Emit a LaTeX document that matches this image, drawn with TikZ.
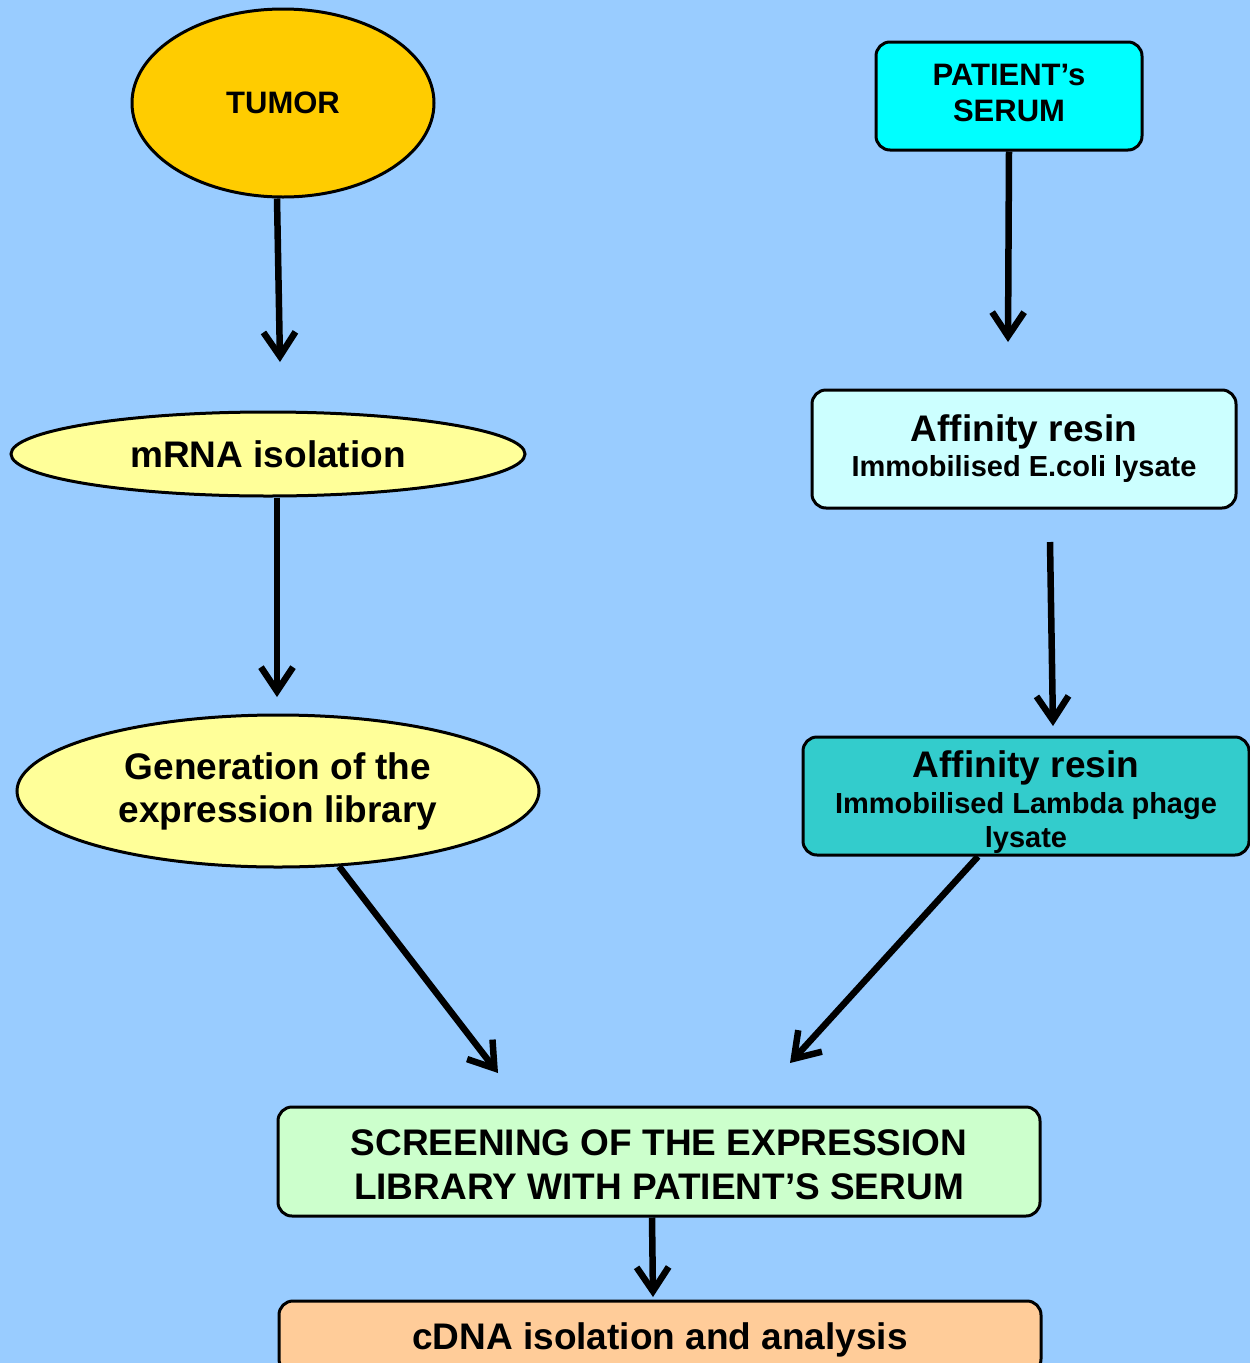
\documentclass[tikz,border=0pt]{standalone}
\usepackage{fontspec}
\setmainfont{Liberation Sans}
\usetikzlibrary{arrows.meta,calc,shapes.geometric}
\definecolor{bgblue}{HTML}{99CCFF}
\definecolor{tumorc}{HTML}{FFCC00}
\definecolor{paleyel}{HTML}{FFFF99}
\definecolor{cyanc}{HTML}{00FFFF}
\definecolor{palecyan}{HTML}{CCFFFF}
\definecolor{tealc}{HTML}{33CCCC}
\definecolor{palegreen}{HTML}{CCFFCC}
\definecolor{peach}{HTML}{FFCC99}
\tikzset{
  shapebase/.style={draw=black, line width=3pt, inner sep=0pt, align=center, font=\bfseries},
  ell/.style={shapebase, ellipse},
  rbox/.style={shapebase, rectangle, rounded corners=14pt},
  arr/.style={line width=6.5pt, -{Straight Barb[length=24pt,width=32pt]}},
}
\begin{document}
\begin{tikzpicture}[x=1pt,y=-1pt]
\fill[bgblue] (0,0) rectangle (1250,1363);
\useasboundingbox (0,0) rectangle (1250,1363);

% left column
\node[ell, fill=tumorc, minimum width=302pt, minimum height=188pt,
      font=\bfseries\fontsize{31}{36}\selectfont] (tumor) at (283,103) {TUMOR};
\node[ell, fill=paleyel, minimum width=514pt, minimum height=84pt,
      font=\bfseries\fontsize{37}{43}\selectfont] (mrna) at (268,454) {mRNA isolation};
\node[ell, fill=paleyel, minimum width=522pt, minimum height=152pt,
      font=\bfseries\fontsize{37}{43}\selectfont] (gen) at (278,791) {Generation of the\\expression library};

% right column
\node[rbox, fill=cyanc, minimum width=266pt, minimum height=108pt,
      font=\bfseries\fontsize{31}{36}\selectfont] (patient) at (1009,96)
      {PATIENT’s\\SERUM\rule[-6pt]{0pt}{6pt}};
\node[rbox, fill=palecyan, minimum width=424pt, minimum height=118pt,
      font=\bfseries\fontsize{29}{34}\selectfont] (aff1) at (1024,449)
      {{\fontsize{37}{38}\selectfont Affinity resin}\\[1pt]Immobilised E.coli lysate};
\node[rbox, fill=tealc, minimum width=446pt, minimum height=118pt,
      font=\bfseries\fontsize{29}{34}\selectfont] (aff2) at (1026,796)
      {{\fontsize{37}{38}\selectfont\rule{0pt}{38pt}Affinity resin}\\[2pt]Immobilised Lambda phage\\lysate};

% bottom
\node[rbox, fill=palegreen, minimum width=762pt, minimum height=109pt,
      font=\bfseries\fontsize{37}{44}\selectfont] (screen) at (659,1161.5)
      {\rule{0pt}{33pt}SCREENING OF THE EXPRESSION\\LIBRARY WITH PATIENT’S SERUM};
\node[rbox, fill=peach, minimum width=762pt, minimum height=72pt,
      font=\bfseries\fontsize{37}{43}\selectfont] (cdna) at (660,1337)
      {\rule{0pt}{33pt}cDNA isolation and analysis};

% arrow free ends
\coordinate (t1) at (280,362);
\coordinate (t2) at (277,697);
\coordinate (t3) at (498,1073);
\coordinate (t4) at (1008,342);
\coordinate (s5) at (1050,542);
\coordinate (t5) at (1053,726);
\coordinate (t6) at (790,1063);
\coordinate (t7) at (653,1297);

\draw[arr] ($(tumor.south)+(-6,0)$) -- (t1);
\draw[arr] ($(mrna.south)+(9,0)$) -- (t2);
\draw[arr] (gen.-51) -- (t3);
\draw[arr] (patient.south) -- (t4);
\draw[arr] (s5) -- (t5);
\draw[arr] ($(aff2.south)+(-48,0)$) -- (t6);
\draw[arr] ($(screen.south)+(-7,0)$) -- (t7);
\end{tikzpicture}
\end{document}
